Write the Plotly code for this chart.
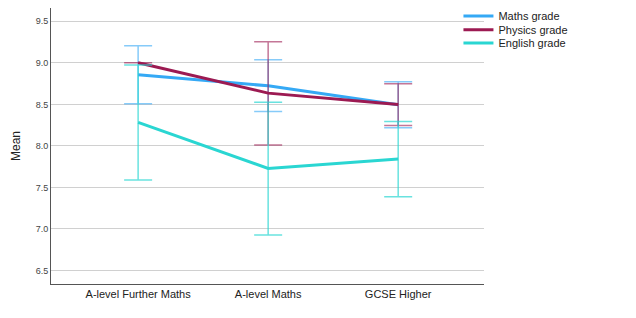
import plotly.graph_objects as go

categories = ["A-level Further Maths", "A-level Maths", "GCSE Higher"]
series_names = ["Maths grade", "Physics grade", "English grade"]

maths_mean = [8.855, 8.723, 8.495]
maths_upper = [9.205, 9.036, 8.771]
maths_lower = [8.506, 8.413, 8.217]

physics_mean = [9.0, 8.635, 8.497]
physics_upper = [9.0, 9.253, 8.747]
physics_lower = [9.0, 8.012, 8.245]

english_mean = [8.282, 7.729, 7.842]
english_upper = [8.975, 8.526, 8.293]
english_lower = [7.590, 6.928, 7.386]

line_colors = ["#35a9f5", "#9c1a52", "#2ad6d2"]
err_colors = ["rgba(53,169,245,0.6)", "rgba(156,26,82,0.6)", "rgba(42,214,210,0.7)"]

means = [maths_mean, physics_mean, english_mean]
uppers = [maths_upper, physics_upper, english_upper]
lowers = [maths_lower, physics_lower, english_lower]
legend_ids = ["legend", "legend2", "legend3"]
legend_y = [0.971, 0.921, 0.873]

font_family = "Liberation Sans, Arial, sans-serif"

fig = go.Figure()
for name, m, u, lo, lc, ec, lid in zip(series_names, means, uppers, lowers, line_colors, err_colors, legend_ids):
    fig.add_trace(go.Scatter(
        x=categories, y=m, name=name, mode="lines", legend=lid,
        line=dict(color=lc, width=3),
        error_y=dict(type="data", symmetric=False,
                     array=[a - b for a, b in zip(u, m)],
                     arrayminus=[b - c for b, c in zip(m, lo)],
                     color=ec, thickness=1.5, width=14),
    ))

legend_common = dict(xref="paper", yref="paper", x=0.941, xanchor="left", yanchor="middle",
                     font=dict(size=11, color="#222", family=font_family),
                     bgcolor="rgba(0,0,0,0)", itemwidth=30)

fig.update_layout(
    width=636, height=318,
    margin=dict(l=51, r=152, t=8, b=34, autoexpand=False),
    paper_bgcolor="white", plot_bgcolor="white",
    font=dict(family=font_family, color="#222"),
    showlegend=True,
    legend=dict(y=legend_y[0], **legend_common),
    legend2=dict(y=legend_y[1], **legend_common),
    legend3=dict(y=legend_y[2], **legend_common),
    xaxis=dict(range=[-0.67, 2.66], showgrid=False, showline=True, linecolor="#555", linewidth=1,
               ticks="", tickfont=dict(size=11, color="#222"), zeroline=False),
    yaxis=dict(range=[6.337, 9.66], tickvals=[6.5, 7.0, 7.5, 8.0, 8.5, 9.0, 9.5],
               ticktext=["6.5", "7.0", "7.5", "8.0", "8.5", "9.0", "9.5"],
               showgrid=True, gridcolor="#d0d0d0", gridwidth=1.2,
               showline=True, linecolor="#555", linewidth=1, ticks="",
               tickfont=dict(size=9, color="#444"), zeroline=False,
               title=dict(text="Mean", font=dict(size=12, color="#222"), standoff=12)),
    annotations=[dict(text="Error bars: 95% CI", x=0.5, y=-0.13, xref="paper", yref="paper",
                      xanchor="center", yanchor="top", showarrow=False,
                      font=dict(size=11, color="#222"))],
)

fig.write_html("out.html", config={"displayModeBar": False},
               post_script="document.body.style.margin='0';document.body.style.overflow='hidden';")
